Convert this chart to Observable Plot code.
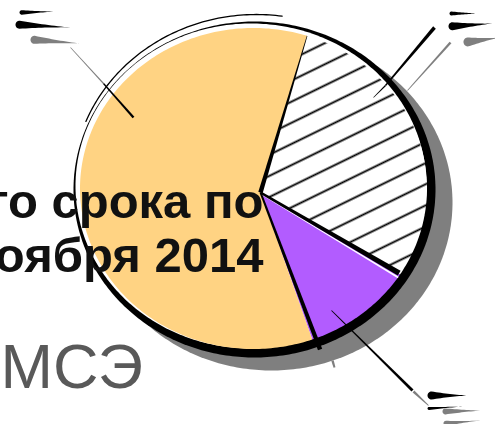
<!DOCTYPE html>
<html><head><meta charset="utf-8">
<script src="https://cdn.jsdelivr.net/npm/d3@7"></script>
<script src="https://cdn.jsdelivr.net/npm/@observablehq/plot@0.6"></script>
<style>html,body{margin:0;padding:0;background:#fff;overflow:hidden}#chart{width:495px;height:424px;overflow:hidden}</style>
</head><body><div id="chart"></div>
<script>
// ---- data ----
const categories = ["Сегмент 1", "Сегмент 2", "Сегмент 3"];
const values = [29, 10.5, 60.5];
const fills = ["url(#hatch)", "#b25cff", "#ffd383"];
const titleLines = ["то срока по", "оября 2014"];
const subtitle = "МСЭ";

// ---- layout (pixel frame) ----
const W = 495, H = 424;
const startDeg = 18;
const vertex = [260, 192];
const E0 = {cx: 254, cy: 189, rx: 181, ry: 168, rot: 0};   // outer black
const E1 = {cx: 250.5, cy: 185.5, rx: 175.5, ry: 162.5, rot: 0};   // white body
const E2 = {cx: 253, cy: 188, rx: 173.5, ry: 160.5, rot: 0};   // slice fill
const E3 = {cx: 256, cy: 185, rx: 184, ry: 171, rot: 0};   // sketch line
const SH = {dx: 17, dy: 13};

const rad = d => d * Math.PI / 180;
function onE(e, t) {
  const xl = e.rx * Math.sin(t), yl = -e.ry * Math.cos(t), r = rad(e.rot || 0);
  return [e.cx + xl * Math.cos(r) - yl * Math.sin(r), e.cy + xl * Math.sin(r) + yl * Math.cos(r)];
}
function ellipsePts(e, id, a0 = 0, a1 = 2 * Math.PI) {
  const n = Math.max(2, Math.ceil(Math.abs(a1 - a0) / rad(1)));
  return d3.range(n + 1).map(i => { const [x, y] = onE(e, a0 + (a1 - a0) * i / n); return {id, x, y}; });
}
function taper(id, p0, p1, w0, w1) {
  const L = Math.hypot(p1[0] - p0[0], p1[1] - p0[1]);
  const nx = -(p1[1] - p0[1]) / L, ny = (p1[0] - p0[0]) / L;
  return [
    {id, x: p0[0] + nx * w0 / 2, y: p0[1] + ny * w0 / 2},
    {id, x: p1[0] + nx * w1 / 2, y: p1[1] + ny * w1 / 2},
    {id, x: p1[0] - nx * w1 / 2, y: p1[1] - ny * w1 / 2},
    {id, x: p0[0] - nx * w0 / 2, y: p0[1] - ny * w0 / 2}
  ];
}
function teardrop(id, x0, y0, x1, y1, T) {
  const L = Math.hypot(x1 - x0, y1 - y0), ux = (x1 - x0) / L, uy = (y1 - y0) / L, nx = -uy, ny = ux, R = T / 2;
  const hx = x0 + ux * R, hy = y0 + uy * R, n = 16, pts = [];
  for (let i = 0; i <= n; i++) { const s = i / n, w = R * Math.pow(1 - s, 1.4); pts.push({id, x: hx + (x1 - hx) * s + nx * w, y: hy + (y1 - hy) * s + ny * w}); }
  for (let i = n; i >= 0; i--) { const s = i / n, w = R * Math.pow(1 - s, 1.4); pts.push({id, x: hx + (x1 - hx) * s - nx * w, y: hy + (y1 - hy) * s - ny * w}); }
  for (let i = 1; i < n; i++) { const a = Math.PI * i / n; pts.push({id, x: hx + R * (-nx * Math.cos(a) - ux * Math.sin(a)), y: hy + R * (-ny * Math.cos(a) - uy * Math.sin(a))}); }
  return pts;
}

// ---- pie ----
const arcs = d3.pie().sort(null).value(d => d).startAngle(rad(startDeg)).endAngle(rad(startDeg) + 2 * Math.PI)(values);
const slicePts = arcs.flatMap((a, i) => [
  {id: categories[i], x: vertex[0], y: vertex[1]},
  ...ellipsePts(E2, categories[i], a.startAngle, a.endAngle)
]);
const shadowPts = ellipsePts({...E0, cx: E0.cx + SH.dx, cy: E0.cy + SH.dy}, "shadow");
const outerPts = ellipsePts(E0, "outer");
const bodyPts = ellipsePts(E1, "body");
const sketchPts = ellipsePts(E3, "sketch", rad(-68), rad(8));

const aOH = arcs[0].startAngle, aHP = arcs[0].endAngle, aPO = arcs[1].endAngle;
const blackPolys = [], greyPolys = [], whitePolys = [];
// slice boundaries
blackPolys.push(...taper("b1", vertex, onE(E2, aOH), 4.5, 0.6));
blackPolys.push(...taper("b2", vertex, onE(E1, aHP), 2.5, 5.5));
{
  const p = onE(E2, aHP), dx = p[0] - vertex[0], dy = p[1] - vertex[1], L = Math.hypot(dx, dy);
  const ox = -dy / L * 3.6, oy = dx / L * 3.6;
  whitePolys.push(...taper("w2", [vertex[0] + ox * 0.3, vertex[1] + oy * 0.3], [p[0] + ox, p[1] + oy], 0.6, 1.8));
}
{
  const p = onE(E0, aPO - rad(1.1));
  blackPolys.push(...taper("b3", vertex, [p[0] + 1, p[1] + 3], 2, 4.5));
}
greyPolys.push(...taper("g3", [332, 360], [334, 367], 2.5, 2));
// leader lines
blackPolys.push(...taper("l1", [133, 117], [103, 83], 2.4, 1.3));
greyPolys.push(...taper("l1g", [103, 83], [70, 47], 1.2, 0.6));
blackPolys.push(...taper("l2", [434, 27], [385, 85], 3.5, 1.4));
blackPolys.push(...taper("l2b", [385, 85], [373, 97], 1.4, 0.4));
greyPolys.push(...taper("l2g", [450, 42], [407, 90], 2.5, 0.8));
blackPolys.push(...taper("l3", [331, 310], [412, 390], 0.8, 3));
greyPolys.push(...taper("l3g", [413, 391], [428, 405], 2.5, 1));
// label blobs
blackPolys.push(...teardrop("t1", 19, 12, 55, 11, 4.5));
blackPolys.push(...teardrop("t2", 15, 24, 70, 27, 8));
greyPolys.push(...teardrop("t3", 30, 39, 80, 43, 8));
blackPolys.push(...teardrop("t4", 449, 13, 478, 13, 4));
blackPolys.push(...teardrop("t5", 448, 26, 492, 23, 8));
greyPolys.push(...teardrop("t6", 463, 42, 500, 37, 9));
blackPolys.push(...teardrop("t7", 427, 395, 468, 395, 8));
blackPolys.push(...teardrop("t8", 427, 408, 462, 406, 3));
greyPolys.push(...teardrop("t9", 442, 411, 482, 410, 6));
greyPolys.push(...teardrop("t10", 443, 423, 480, 420, 5));

const defs = () => {
  const g = d3.create("svg:defs");
  const p = g.append("pattern").attr("id", "hatch").attr("patternUnits", "userSpaceOnUse")
    .attr("width", 20).attr("height", 19).attr("patternTransform", "rotate(-26)");
  p.append("rect").attr("width", 20).attr("height", 19).attr("fill", "#fff");
  p.append("line").attr("x1", 0).attr("x2", 20).attr("y1", 9.5).attr("y2", 9.5)
    .attr("stroke", "#000").attr("stroke-width", 1.9);
  return g.node();
};

const poly = (data, fill) => Plot.line(data, {x: "x", y: "y", z: "id", fill, stroke: "none", curve: "linear-closed"});
const font = "'Liberation Sans', Arial, sans-serif";

const chart = Plot.plot({
  width: W, height: H, margin: 0,
  x: {domain: [0, W], range: [0, W], axis: null},
  y: {domain: [0, H], range: [0, H], axis: null},
  color: {domain: categories, range: fills},
  style: {background: "#fff", fontFamily: font},
  marks: [
    defs,
    poly(shadowPts, "#7f7f7f"),
    poly(outerPts, "#000"),
    poly(bodyPts, "#fff"),
    Plot.line(slicePts, {x: "x", y: "y", z: "id", fill: "id", stroke: "none", curve: "linear-closed"}),
    Plot.line(sketchPts, {x: "x", y: "y", stroke: "#000", strokeWidth: 1.3}),
    poly(whitePolys, "#fff"),
    poly(greyPolys, "#7f7f7f"),
    poly(blackPolys, "#000"),
    Plot.text([titleLines.join("\n")], {text: d => d, frameAnchor: "top-left", dx: 263, dy: 271,
      textAnchor: "end", lineAnchor: "bottom", lineHeight: 1.1, fontSize: 49, fontWeight: "bold",
      fill: "#111", fontFamily: font}),
    Plot.text([subtitle], {text: d => d, frameAnchor: "top-left", dx: 0, dy: 387,
      textAnchor: "start", lineAnchor: "bottom", fontSize: 63, fill: "#595959", fontFamily: font})
  ]
});
document.getElementById("chart").append(chart);
</script>
</body></html>
